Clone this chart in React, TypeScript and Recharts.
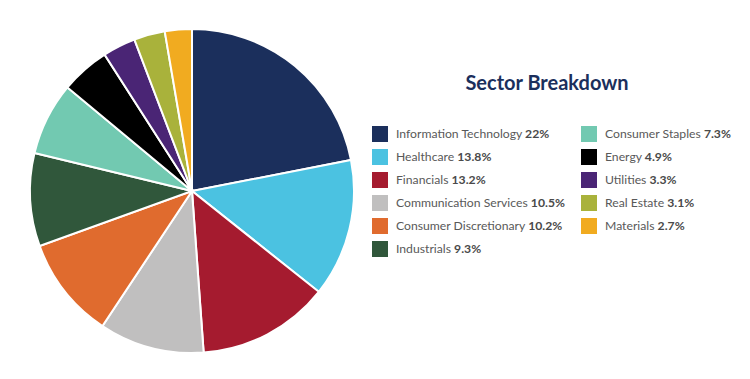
import { PieChart, Pie, Cell } from "recharts";

const sectors = [
  "Information Technology",
  "Healthcare",
  "Financials",
  "Communication Services",
  "Consumer Discretionary",
  "Industrials",
  "Consumer Staples",
  "Energy",
  "Utilities",
  "Real Estate",
  "Materials",
];

const weights = [22, 13.8, 13.2, 10.5, 10.2, 9.3, 7.3, 4.9, 3.3, 3.1, 2.7];

const valueLabels = [
  "22%",
  "13.8%",
  "13.2%",
  "10.5%",
  "10.2%",
  "9.3%",
  "7.3%",
  "4.9%",
  "3.3%",
  "3.1%",
  "2.7%",
];

const colors = [
  "#1b2f5c",
  "#4bc2e1",
  "#a51b2f",
  "#c0bfbf",
  "#e06b2e",
  "#30573b",
  "#72c9b1",
  "#000000",
  "#4a2575",
  "#a9b23b",
  "#f1ab20",
];

const data = sectors.map((name, i) => ({ name, value: weights[i] }));

const FONT = "Lato, 'Noto Sans', sans-serif";

const LegendColumn = ({ start, end }: { start: number; end: number }) => (
  <div style={{ display: "flex", flexDirection: "column" }}>
    {sectors.slice(start, end).map((name, k) => {
      const i = start + k;
      return (
        <div
          key={name}
          style={{ display: "flex", alignItems: "center", height: 23 }}
        >
          <span
            style={{
              width: 16,
              height: 16,
              background: colors[i],
              marginRight: 8,
              flexShrink: 0,
            }}
          />
          <span style={{ color: "#595959", fontSize: 12.2, whiteSpace: "nowrap" }}>
            {name}{" "}
            <b style={{ color: "#4a4a4a", fontWeight: 700 }}>{valueLabels[i]}</b>
          </span>
        </div>
      );
    })}
  </div>
);

export default function App() {
  return (
    <div
      style={{
        position: "absolute",
        left: 0,
        top: 0,
        width: 750,
        height: 379,
        background: "#fff",
        fontFamily: FONT,
      }}
    >
      <PieChart width={390} height={379}>
        <Pie
          data={data}
          dataKey="value"
          nameKey="name"
          cx={187}
          cy={186}
          outerRadius={162}
          startAngle={90}
          endAngle={-270}
          stroke="#fff"
          strokeWidth={2}
          isAnimationActive={false}
        >
          {data.map((d, i) => (
            <Cell key={d.name} fill={colors[i]} />
          ))}
        </Pie>
      </PieChart>
      <div
        style={{
          position: "absolute",
          left: 372,
          top: 70,
          width: 350,
          textAlign: "center",
          fontSize: 20,
          fontWeight: 700,
          color: "#1b2f5c",
        }}
      >
        Sector Breakdown
      </div>
      <div
        style={{
          position: "absolute",
          left: 372,
          top: 122,
          display: "flex",
        }}
      >
        <div style={{ width: 209 }}>
          <LegendColumn start={0} end={6} />
        </div>
        <LegendColumn start={6} end={11} />
      </div>
    </div>
  );
}
